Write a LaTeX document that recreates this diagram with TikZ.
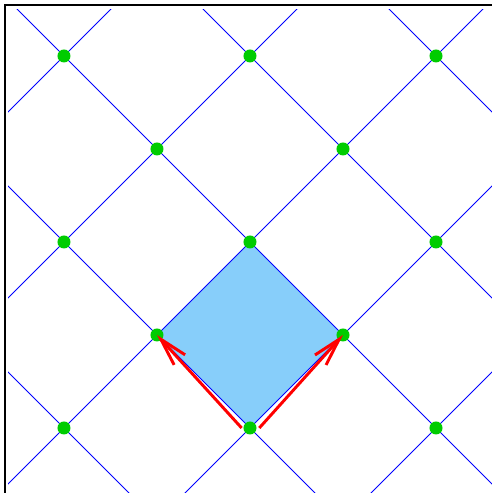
\documentclass[tikz,border=0pt]{standalone}
\usetikzlibrary{arrows.meta}
\definecolor{cellfill}{RGB}{135,206,250}
\definecolor{dotgreen}{RGB}{0,204,0}
\begin{document}
\begin{tikzpicture}[x=1cm,y=1cm]
\tikzstyle{every node}+=[inner sep=0pt]
\tikzstyle{latline}=[blue, line width=0.3pt]
\tikzstyle{latdot}=[circle, fill=dotgreen, minimum size=0.14cm]
\tikzstyle{basisarrow}=[red, line width=0.9pt, -{Straight Barb[length=3mm,width=1.6mm]}]
\useasboundingbox (-2.688,-0.699) rectangle (2.602,4.602);
% unit cell
\fill [cellfill] (0,0) -- (1,1) -- (0,2) -- (-1,1) -- cycle;
% lattice lines
\begin{scope}
\clip (-2.6,-0.7) rectangle (2.6,4.5);
\foreach \c in {-2,0,...,6} {
  \draw [latline] (-6,-6+\c) -- (6,6+\c);
  \draw [latline] (-6,6+\c) -- (6,-6+\c);
}
\end{scope}
% frame
\draw [black, line width=0.6pt] (-2.634,-0.699) -- (-2.634,4.548) -- (2.602,4.548);
% lattice points
\node [latdot] (o) at (0,0) {};
\node [latdot] (a) at (1,1) {};
\node [latdot] (b) at (-1,1) {};
\foreach \x/\y [count=\i] in {-2/0,2/0,-2/2,0/2,2/2,-1/3,1/3,-2/4,0/4,2/4}
  \node [latdot] (pt\i) at (\x,\y) {};
% basis vectors
\draw [basisarrow] ([xshift=-0.09cm]o.center) -- (b.center);
\draw [basisarrow] ([xshift=0.1cm]o.center) -- (a.center);
\end{tikzpicture}
\end{document}
